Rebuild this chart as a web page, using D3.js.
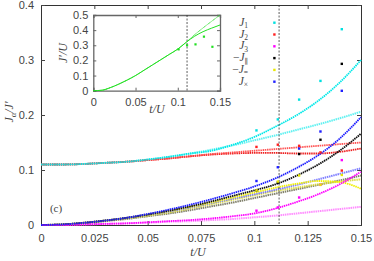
<!DOCTYPE html>
<html>
<head>
<meta charset="utf-8">
<script src="https://cdn.jsdelivr.net/npm/d3@7"></script>
<style>
  body { margin: 0; background: #fff; }
  svg { display: block; font-family: "Liberation Serif", "DejaVu Serif", serif; }
  .tick text { fill: #444; font-size: 11px; }
</style>
</head>
<body>
<svg id="chart" width="374" height="261"></svg>
<script>
// grid for the computed curves
const tGrid = [0, 0.01, 0.02, 0.03, 0.04, 0.05, 0.06, 0.07, 0.08, 0.09, 0.10, 0.11, 0.12, 0.13, 0.14, 0.15];

const j1a   = [0.110, 0.110, 0.111, 0.113, 0.115, 0.119, 0.124, 0.130, 0.135, 0.146, 0.160, 0.179, 0.200, 0.226, 0.259, 0.300];
const j1b   = [0.110, 0.110, 0.111, 0.113, 0.115, 0.119, 0.124, 0.130, 0.137, 0.145, 0.154, 0.163, 0.173, 0.183, 0.194, 0.206];
const j2a   = [0.110, 0.110, 0.111, 0.113, 0.115, 0.118, 0.121, 0.125, 0.129, 0.132, 0.135, 0.138, 0.141, 0.144, 0.147, 0.150];
const j2b   = [0.110, 0.110, 0.111, 0.113, 0.115, 0.118, 0.121, 0.125, 0.128, 0.130, 0.131, 0.131, 0.130, 0.130, 0.133, 0.139];
const jxa   = [0, 0.001, 0.004, 0.008, 0.013, 0.020, 0.028, 0.037, 0.047, 0.058, 0.070, 0.085, 0.104, 0.127, 0.157, 0.196];
const jxb   = [0, 0.001, 0.004, 0.008, 0.013, 0.019, 0.025, 0.032, 0.040, 0.048, 0.056, 0.064, 0.073, 0.083, 0.093, 0.103];
const jpara = [0, 0.001, 0.004, 0.008, 0.013, 0.019, 0.026, 0.034, 0.043, 0.053, 0.063, 0.074, 0.090, 0.110, 0.135, 0.166];
const jparb = [0, 0.001, 0.003, 0.007, 0.011, 0.016, 0.021, 0.027, 0.034, 0.041, 0.049, 0.057, 0.065, 0.073, 0.081, 0.090];
const jeqa  = [0, 0.001, 0.004, 0.008, 0.013, 0.019, 0.026, 0.033, 0.041, 0.050, 0.059, 0.068, 0.075, 0.080, 0.078, 0.066];
const jeqb  = [0, 0.001, 0.004, 0.008, 0.012, 0.017, 0.023, 0.030, 0.038, 0.046, 0.054, 0.062, 0.068, 0.074, 0.079, 0.083];
const j3a   = [0, 0, 0.001, 0.002, 0.003, 0.005, 0.007, 0.009, 0.012, 0.016, 0.021, 0.030, 0.042, 0.056, 0.074, 0.097];
const j3b   = [0, 0, 0.001, 0.002, 0.003, 0.004, 0.006, 0.007, 0.009, 0.011, 0.014, 0.017, 0.021, 0.025, 0.029, 0.033];

// inset J'/U curves
const jpa = [0, 0.003, 0.020, 0.043, 0.070, 0.100, 0.135, 0.170, 0.205, 0.240, 0.275, 0.320, 0.370, 0.415, 0.458, 0.500];
const jpb = [0, 0.003, 0.020, 0.043, 0.070, 0.100, 0.135, 0.170, 0.205, 0.240, 0.275, 0.320, 0.360, 0.390, 0.413, 0.434];

// scattered points
const tPts    = [0.101, 0.111, 0.121, 0.131, 0.141];
const j1Pts   = [0.172, 0.192, 0.228, 0.262, 0.356];
const j2Pts   = [0.142, 0.146, 0.144, 0.132, 0.099];
const j3Pts   = [0.026, 0.032, 0.050, 0.073, 0.118];
const jparPts = [0.063, 0.077, 0.129, 0.155, 0.293];
const jeqPts  = [0.063, 0.079, 0.090, 0.073, 0.091];
const jxPts   = [0.080, 0.105, 0.139, 0.170, 0.244];
const jpPts   = [0.273, 0.300, 0.306, 0.357, 0.290];

const tCut = 0.1116;

const xTicks = [0, 0.025, 0.05, 0.075, 0.1, 0.125, 0.15];
const yTicks = [0, 0.1, 0.2, 0.3, 0.4];
const xTicksIn = [0, 0.05, 0.1, 0.15];
const yTicksIn = [0, 0.1, 0.2, 0.3, 0.4, 0.5];

const svg = d3.select('#chart');

const x = d3.scaleLinear().domain([0, 0.15]).range([41, 361]);
const y = d3.scaleLinear().domain([0, 0.4]).range([225, 5]);

const fmt = (d) => d === 0 ? '0' : String(+d.toFixed(3));

// axes, ticks inward
svg.append('g')
    .attr('transform', 'translate(0,225)')
    .call(d3.axisBottom(x).tickValues(xTicks).tickFormat(fmt).tickSize(-4).tickPadding(9));
svg.append('g')
    .attr('transform', 'translate(0,5)')
    .call(d3.axisTop(x).tickValues(xTicks).tickFormat('').tickSize(-4));
svg.append('g')
    .attr('transform', 'translate(41,0)')
    .call(d3.axisLeft(y).tickValues(yTicks).tickFormat(fmt).tickSize(-4).tickPadding(7));
svg.append('g')
    .attr('transform', 'translate(361,0)')
    .call(d3.axisRight(y).tickValues(yTicks).tickFormat('').tickSize(-4));
svg.selectAll('.domain').attr('stroke', '#333');
svg.selectAll('.tick line').attr('stroke', '#444');

// curves
const line = (xs, ys) => d3.line()
  .x((d) => xs(d[0]))
  .y((d) => ys(d[1]))
  .curve(d3.curveMonotoneX);

const curves = [
  { v: j3b,   c: '#ff70ff', w: 2, o: 0.8 },
  { v: jparb, c: '#55553a', w: 2, o: 0.75 },
  { v: jeqb,  c: '#d8d830', w: 2, o: 0.85 },
  { v: jxb,   c: '#6a6aff', w: 2, o: 0.85 },
  { v: j1b,   c: '#50f0f0', w: 2, o: 0.9 },
  { v: j2b,   c: '#ee2020', w: 1.8, o: 1 },
  { v: j2a,   c: '#ff4040', w: 1.8, o: 0.9 },
  { v: j1a,   c: '#00e8e8', w: 1.8, o: 1 },
  { v: jeqa,  c: '#f0f000', w: 1.8, o: 1 },
  { v: jpara, c: '#111111', w: 1.8, o: 1 },
  { v: j3a,   c: '#ff00ff', w: 1.8, o: 1 },
  { v: jxa,   c: '#1a1aff', w: 1.8, o: 1 },
];

svg.append('g')
  .selectAll('path')
  .data(curves)
  .enter()
  .append('path')
    .attr('d', ({ v }) => line(x, y)(tGrid.map((t, i) => [t, v[i]])))
    .attr('fill', 'none')
    .attr('stroke', ({ c }) => c)
    .attr('stroke-width', ({ w }) => w)
    .attr('stroke-opacity', ({ o }) => o)
    .attr('stroke-dasharray', '1.5 0.7');

// dashed cut
svg.append('line')
    .attr('x1', x(tCut)).attr('x2', x(tCut))
    .attr('y1', 5).attr('y2', 225)
    .attr('stroke', '#333')
    .attr('stroke-width', 0.8)
    .attr('stroke-dasharray', '2 1.5');

// point series
const pts = [
  { v: j1Pts,   c: '#00e0e0' },
  { v: j2Pts,   c: '#ff2020' },
  { v: j3Pts,   c: '#ff00ff' },
  { v: jparPts, c: '#000000' },
  { v: jeqPts,  c: '#e8e800' },
  { v: jxPts,   c: '#2020ff' },
];

pts.forEach(({ v, c }) => {
  svg.append('g')
    .selectAll('rect')
    .data(v)
    .enter()
    .append('rect')
      .attr('x', (d, i) => x(tPts[i]) - 1.2)
      .attr('y', (d) => y(d) - 1.2)
      .attr('width', 2.4)
      .attr('height', 2.4)
      .attr('fill', c);
});

// legend
const legend = [
  { s: '1', neg: false },
  { s: '2', neg: false },
  { s: '3', neg: false },
  { s: '\u2225', neg: true },
  { s: '=', neg: true },
  { s: '\u00d7', neg: false },
];

const lg = svg.append('g')
  .selectAll('g')
  .data(legend)
  .enter()
  .append('g')
    .attr('transform', (d, i) => `translate(0, ${22.7 + i * 11.8})`);

const lt = lg.append('text')
    .attr('x', 248)
    .attr('y', 3)
    .attr('text-anchor', 'end')
    .attr('fill', '#444')
    .style('font-size', '11.5px');
lt.append('tspan').text(({ neg }) => neg ? '\u2212' : '');
lt.append('tspan').style('font-style', 'italic').text('J');
lt.append('tspan')
    .attr('dy', 2.5)
    .style('font-size', '7.5px')
    .text(({ s }) => s);

lg.append('rect')
    .attr('x', 273.2)
    .attr('y', -1.2)
    .attr('width', 2.4)
    .attr('height', 2.4)
    .attr('fill', (d, i) => pts[i].c);

// panel label
svg.append('text')
    .attr('x', 56)
    .attr('y', 212)
    .attr('text-anchor', 'middle')
    .attr('fill', '#444')
    .style('font-size', '11px')
    .text('(c)');

// axis titles
svg.append('text')
    .attr('x', 198)
    .attr('y', 256)
    .attr('text-anchor', 'middle')
    .attr('fill', '#444')
    .style('font-size', '12px')
    .style('font-style', 'italic')
    .text('t/U');

const yt = svg.append('text')
    .attr('transform', 'translate(13,112) rotate(-90)')
    .attr('text-anchor', 'middle')
    .attr('fill', '#444')
    .style('font-size', '12px')
    .style('font-style', 'italic');
yt.append('tspan').text('J');
yt.append('tspan').attr('dy', 2.5).style('font-size', '8.5px').text('\u03b1');
yt.append('tspan').attr('dy', -2.5).text('/J\u2032');

// inset
const xi = d3.scaleLinear().domain([0, 0.15]).range([93.3, 220]);
const yi = d3.scaleLinear().domain([0, 0.5]).range([90.7, 15]);

const inset = svg.append('g');

inset.append('rect')
    .attr('x', 93.3).attr('y', 15)
    .attr('width', 220 - 93.3).attr('height', 90.7 - 15)
    .attr('fill', '#fff');

inset.append('g')
    .attr('transform', 'translate(0,90.7)')
    .call(d3.axisBottom(xi).tickValues(xTicksIn).tickFormat(fmt).tickSize(-3).tickPadding(8));
inset.append('g')
    .attr('transform', 'translate(0,15)')
    .call(d3.axisTop(xi).tickValues(xTicksIn).tickFormat('').tickSize(-3));
inset.append('g')
    .attr('transform', 'translate(93.3,0)')
    .call(d3.axisLeft(yi).tickValues(yTicksIn).tickFormat(fmt).tickSize(-3).tickPadding(5));
inset.append('g')
    .attr('transform', 'translate(220,0)')
    .call(d3.axisRight(yi).tickValues(yTicksIn).tickFormat('').tickSize(-3));
inset.selectAll('.domain').attr('stroke', '#666').attr('stroke-width', 1.3);
inset.selectAll('.tick line').attr('stroke', '#666');

inset.append('line')
    .attr('x1', xi(0.111)).attr('x2', xi(0.111))
    .attr('y1', 15).attr('y2', 90.7)
    .attr('stroke', '#333')
    .attr('stroke-width', 0.8)
    .attr('stroke-dasharray', '2 1.5');

inset.append('g')
  .selectAll('path')
  .data([jpa, jpb])
  .enter()
  .append('path')
    .attr('d', (v) => line(xi, yi)(tGrid.map((t, i) => [t, v[i]])))
    .attr('fill', 'none')
    .attr('stroke', '#22e022')
    .attr('stroke-width', 1)
    .attr('stroke-dasharray', (d, i) => i ? null : '1 0.6');

inset.append('g')
  .selectAll('rect')
  .data(jpPts)
  .enter()
  .append('rect')
    .attr('x', (d, i) => xi(tPts[i]) - 1.1)
    .attr('y', (d) => yi(d) - 1.1)
    .attr('width', 2.2)
    .attr('height', 2.2)
    .attr('fill', '#22e022');

inset.append('text')
    .attr('x', 157)
    .attr('y', 113)
    .attr('text-anchor', 'middle')
    .attr('fill', '#444')
    .style('font-size', '12px')
    .style('font-style', 'italic')
    .text('t/U');

inset.append('text')
    .attr('transform', 'translate(67,53) rotate(-90)')
    .attr('text-anchor', 'middle')
    .attr('fill', '#444')
    .style('font-size', '12px')
    .style('font-style', 'italic')
    .text('J\u2032/U');
</script>
</body>
</html>
